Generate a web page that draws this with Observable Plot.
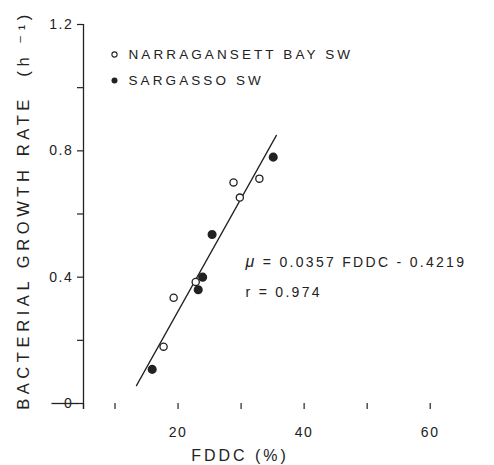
<!DOCTYPE html>
<html>
<head>
<meta charset="utf-8">
<script src="https://cdn.jsdelivr.net/npm/d3@7"></script>
<script src="https://cdn.jsdelivr.net/npm/@observablehq/plot@0.6"></script>
<style>
  html, body { margin: 0; padding: 0; background: #fff; }
  svg { font-family: "Liberation Sans", "DejaVu Sans", sans-serif; }
</style>
</head>
<body>
<div id="chart"></div>
<script>
// Narragansett Bay seawater (open circles)
const nbFDDC = [17.7, 19.3, 22.8, 28.8, 29.8, 32.9];
const nbRate = [0.18, 0.335, 0.385, 0.70, 0.652, 0.712];
// Sargasso seawater (filled circles)
const sgFDDC = [15.9, 23.2, 23.9, 25.4, 35.1];
const sgRate = [0.108, 0.36, 0.40, 0.535, 0.78];
// regression  mu = 0.0357 FDDC - 0.4219
const fitSlope = 0.0357;
const fitIntercept = -0.4219;
const fitFDDC = [13.4, 35.6];
// ticks
const xTicks = [5, 10, 20, 30, 40, 50, 60];
const xTickLabels = {20: "20", 40: "40", 60: "60"};
const yTicks = [0, 0.2, 0.4, 0.6, 0.8, 1.0, 1.2];
const yTickLabels = {0: "0", 0.4: "0.4", 0.8: "0.8", 1.2: "1.2"};
const legendLabels = ["NARRAGANSETT BAY SW", "SARGASSO SW"];
const eqLabels = ["\u03BC = 0.0357 FDDC - 0.4219", "r = 0.974"];
const xLabel = "FDDC (%)";
const yLabel = "BACTERIAL GROWTH RATE  (h \u207B\u00B9)";

const nb = nbFDDC.map((x, i) => ({x, y: nbRate[i]}));
const sg = sgFDDC.map((x, i) => ({x, y: sgRate[i]}));
const fit = fitFDDC.map(x => ({x, y: fitSlope * x + fitIntercept}));

const ink = "#222";

const chart = Plot.plot({
  width: 494,
  height: 465,
  marginLeft: 83,
  marginRight: 0,
  marginTop: 24,
  marginBottom: 62,
  style: {fontFamily: "'Liberation Sans', 'DejaVu Sans', sans-serif", color: ink, background: "#fff"},
  x: {domain: [5, 70.2]},
  y: {domain: [0, 1.2]},
  marks: [
    Plot.ruleY([0], {x1: 4.2, stroke: ink, strokeWidth: 1.3}),
    Plot.ruleX([5], {y1: -0.018, y2: 1.2, stroke: ink, strokeWidth: 1.3}),
    Plot.axisX({ticks: xTicks, tickSize: 6, tickPadding: 18, strokeWidth: 1.2,
      tickFormat: d => xTickLabels[d] ?? "", fontSize: 14, label: null}),
    Plot.axisY({ticks: yTicks, tickSize: 6, tickPadding: 4, strokeWidth: 1.2,
      tickFormat: d => yTickLabels[Math.round(d * 10) / 10] ?? "", fontSize: 14, label: null}),
    Plot.text([xLabel], {frameAnchor: "bottom", dx: -49, dy: 52, lineAnchor: "middle", fontSize: 16, fill: ink}),
    Plot.text([yLabel], {frameAnchor: "left", dx: -60, dy: -4, textAnchor: "middle",
      rotate: -90, fontSize: 16.5, fill: ink}),
    Plot.line(fit, {x: "x", y: "y", stroke: ink, strokeWidth: 1.3}),
    Plot.dot(nb, {x: "x", y: "y", r: 3.6, stroke: ink, strokeWidth: 1.3, fill: "#fff"}),
    Plot.dot(sg, {x: "x", y: "y", r: 3.8, fill: ink, stroke: ink}),
    // legend
    Plot.dot([legendLabels[0]], {frameAnchor: "top-left", dx: 31, dy: 30, r: 2.6, stroke: ink, fill: "#fff", strokeWidth: 1.1}),
    Plot.dot([legendLabels[1]], {frameAnchor: "top-left", dx: 31, dy: 56, r: 3, fill: ink}),
    Plot.text([legendLabels[0]], {frameAnchor: "top-left", dx: 45, dy: 30, textAnchor: "start", lineAnchor: "middle",
      fontSize: 13.5, fill: ink}),
    Plot.text([legendLabels[1]], {frameAnchor: "top-left", dx: 45, dy: 56, textAnchor: "start", lineAnchor: "middle",
      fontSize: 13.5, fill: ink}),
    // equation
    Plot.text([eqLabels[0]], {frameAnchor: "top-left", dx: 162, dy: 238, textAnchor: "start", lineAnchor: "middle",
      fontSize: 14, fill: ink}),
    Plot.text([eqLabels[1]], {frameAnchor: "top-left", dx: 162, dy: 268, textAnchor: "start", lineAnchor: "middle",
      fontSize: 14, fill: ink})
  ]
});

// letter spacing like the hand-lettered original
const spacing = new Map([
  [xLabel, "3px"], [yLabel, "4.6px"],
  [legendLabels[0], "3.1px"], [legendLabels[1], "3.1px"],
  [eqLabels[0], "2.3px"], [eqLabels[1], "2.3px"]
]);
d3.select(chart).selectAll("text").each(function() {
  const t = this.textContent;
  const s = spacing.get(t) ?? (/^[0-9.]+$/.test(t) ? "1.6px" : null);
  if (s) this.style.letterSpacing = s;
  if (t === eqLabels[0]) {
    // italic mu
    this.textContent = "";
    d3.select(this).append("tspan").attr("font-style", "italic").attr("font-size", 16).text(t[0]);
    d3.select(this).append("tspan").text(t.slice(1));
  }
});
document.getElementById("chart").appendChild(chart);
</script>
</body>
</html>
